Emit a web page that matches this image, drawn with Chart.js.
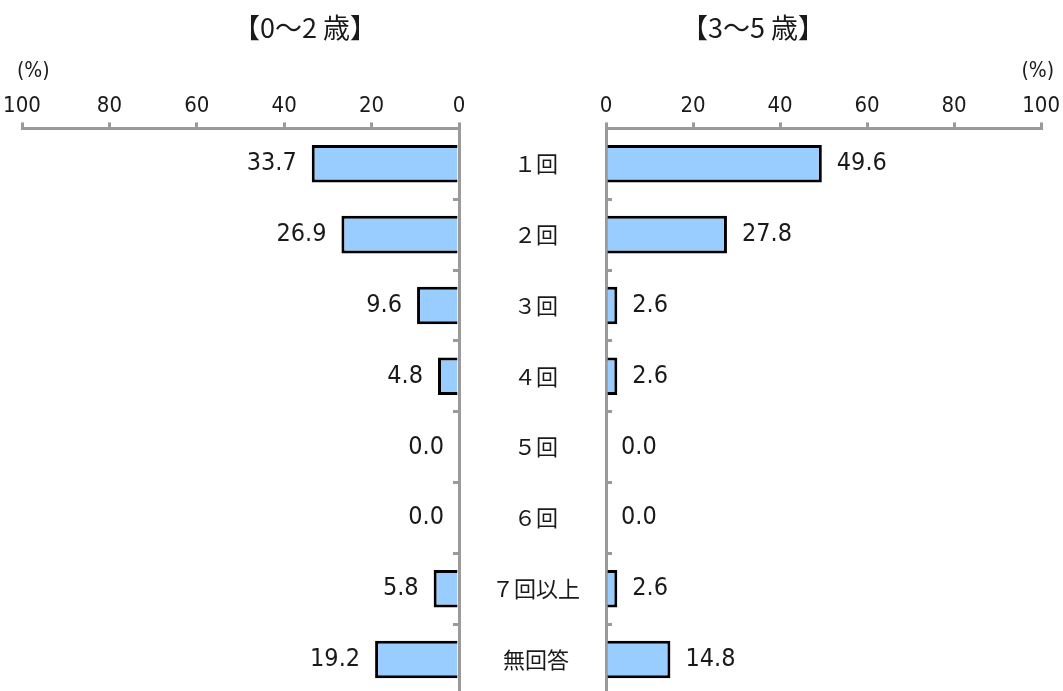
<!DOCTYPE html>
<html>
<head>
<meta charset="utf-8">
<script src="https://cdn.jsdelivr.net/npm/chart.js@4"></script>
<style>
html,body{margin:0;padding:0;overflow:hidden;background:#fff;width:1063px;height:691px;}
.box{position:absolute;top:0;height:696px;}
</style>
</head>
<body>
<div class="box" style="left:0;width:610px;"><canvas id="leftChart"></canvas></div>
<div class="box" style="left:444px;width:619px;"><canvas id="rightChart"></canvas></div>
<script>
const categories=['１回','２回','３回','４回','５回','６回','７回以上','無回答'];
const age0to2=[33.7,26.9,9.6,4.8,0.0,0.0,5.8,19.2];
const age3to5=[49.6,27.8,2.6,2.6,0.0,0.0,2.6,14.8];
const xTicks=[0,20,40,60,80,100];
const titleLeft='【0〜2 歳】',titleRight='【3〜5 歳】';

const GRAY='#9a9a9a',INK='#1a1a1a';
const NARROW='"Liberation Sans Narrow","DejaVu Sans Condensed","Noto Sans CJK JP",sans-serif';

// 値ラベル・見出し・(%)はプラグインで描く
const textPlugin={
id:'textPlugin',
afterDatasetsDraw(chart,args,o){
const ctx=chart.ctx,meta=chart.getDatasetMeta(0),data=chart.data.datasets[0].data;
ctx.save();
ctx.font='25px '+NARROW;
ctx.fillStyle=INK;
ctx.textBaseline='middle';
ctx.textAlign=o.side==='left'?'right':'left';
meta.data.forEach((bar,i)=>{
const x=o.side==='left'?bar.x-15:bar.x+15;
ctx.fillText(data[i].toFixed(1),x,bar.y);
});
ctx.restore();
},
afterDraw(chart,args,o){
const ctx=chart.ctx,ca=chart.chartArea;
ctx.save();
ctx.fillStyle=INK;
ctx.textBaseline='middle';
ctx.textAlign='center';
ctx.font='27px "Noto Sans CJK JP"';
ctx.fillText(o.title,o.titleX,28);
ctx.font='21px '+NARROW;
if(o.side==='left'){ctx.textAlign='left';ctx.fillText('(%)',ca.left-5,72);}
else{ctx.textAlign='right';ctx.fillText('(%)',ca.right+13,72);}
ctx.restore();
}
};

function makeChart(id,values,side,title,titleX){
const left=side==='left';
return new Chart(document.getElementById(id),{
type:'bar',
data:{labels:categories,datasets:[{data:values,backgroundColor:'#99ccff',borderColor:'#000',borderWidth:3,barPercentage:0.53,categoryPercentage:1}]},
options:{
indexAxis:'y',responsive:true,maintainAspectRatio:false,animation:false,
layout:{padding:{top:90,bottom:1,left:left?22:0,right:left?151:19}},
plugins:{legend:{display:false},tooltip:{enabled:false},textPlugin:{side,title,titleX}},
scales:{
x:{position:'top',reverse:left,min:0,max:100,
afterBuildTicks:s=>{s.ticks=xTicks.map(v=>({value:v}));},
grid:{drawOnChartArea:false,color:GRAY,lineWidth:3,tickLength:6},
border:{color:GRAY,width:3},
ticks:{color:INK,padding:3,font:{family:NARROW,size:22}}},
y:{position:left?'right':'left',z:1,
afterFit:s=>{s.width=left?0:162;s.paddingTop=0;s.paddingBottom=0;},
grid:{drawOnChartArea:false,color:GRAY,lineWidth:3,tickLength:-6},
border:{color:GRAY,width:3},
ticks:{display:!left,crossAlign:'center',padding:32,color:INK,font:{family:'"Noto Sans CJK JP"',size:22}}}
}
},
plugins:[textPlugin]
});
}

makeChart('leftChart',age0to2,'left',titleLeft,305);
makeChart('rightChart',age3to5,'right',titleRight,309);
</script>
</body>
</html>
